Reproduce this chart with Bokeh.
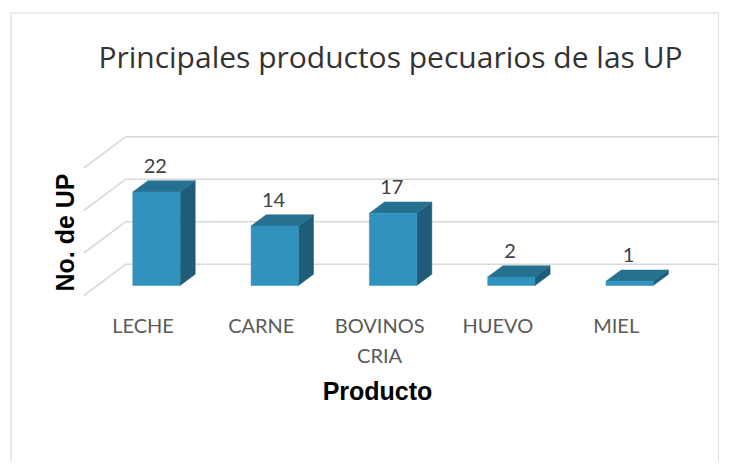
import math
from bokeh.plotting import figure
from bokeh.models import Range1d, Label, ColumnDataSource
from bokeh.core.properties import value
from bokeh.embed import file_html
from bokeh.resources import INLINE

# ---- data ----
categories = ["LECHE", "CARNE", "BOVINOS\nCRIA", "HUEVO", "MIEL"]
counts = [22, 14, 17, 2, 1]
grid_values = [0, 10, 20, 30]
title_text = "Principales productos pecuarios de las UP"
x_title = "Producto"
y_title = "No. de UP"

# ---- geometry / style ----
W, H = 719, 461
PX_X = 118.3            # px per category
PX_Y = 4.25             # px per unit of value
X0_IMG, Y0_IMG = 142.5, 295.0   # px of category 0 / value 0 on front plane
ORG = 0

def px_to_x(X):
    return (X - X0_IMG) / PX_X

def px_to_y(Y):
    return (Y0_IMG - Y) / PX_Y

x_start = px_to_x(ORG)
x_end = x_start + W / PX_X
y_end = px_to_y(ORG)
y_start = y_end - H / PX_Y

DX = 42 / PX_X          # depth offset in x units
DY = 31.3 / PX_Y        # depth offset in value units
D0, D1 = 0.32, 0.68     # bar depth position
HW = 0.2                # bar half width

FRONT = "#3192BE"
TOP = "#26718F"
SIDE = "#1E5C79"
GRID = "#D9D9D9"

p = figure(width=W, height=H, output_backend="svg", toolbar_location=None,
           x_range=Range1d(x_start, x_end), y_range=Range1d(y_start, y_end),
           min_border=0)
p.axis.visible = False
p.grid.visible = False
p.outline_line_color = None
p.background_fill_color = "white"
p.border_fill_color = "white"

# chart border (left, top, right)
bl, bt, br = px_to_x(10.5), px_to_y(12.5), px_to_x(W - 0.8)
p.segment(x0=[bl, bl, br], y0=[y_start, bt, y_start], x1=[bl, br, br], y1=[bt, bt, bt],
          line_color=GRID, line_width=1.2)

# walls
xl = -0.5
xr = len(categories) - 0.5
p.segment(x0=[xl + DX] * len(grid_values), y0=[g + DY for g in grid_values],
          x1=[xr + DX] * len(grid_values), y1=[g + DY for g in grid_values],
          line_color=GRID, line_width=1.6)
p.segment(x0=[xl] * len(grid_values), y0=grid_values,
          x1=[xl + DX] * len(grid_values), y1=[g + DY for g in grid_values],
          line_color=GRID, line_width=1.6)

# bars
fx, fy, tx, ty, sx, sy = [], [], [], [], [], []
for i, v in enumerate(counts):
    a = i - HW + D0 * DX
    b = i + HW + D0 * DX
    a1 = i - HW + D1 * DX
    b1 = i + HW + D1 * DX
    y0f = D0 * DY
    y1f = v + D0 * DY
    y0b = D1 * DY
    y1b = v + D1 * DY
    fx.append([a, b, b, a]); fy.append([y0f, y0f, y1f, y1f])
    tx.append([a, b, b1, a1]); ty.append([y1f, y1f, y1b, y1b])
    sx.append([b, b1, b1, b]); sy.append([y0f, y0b, y1b, y1f])
p.patches(sx, sy, fill_color=SIDE, line_color=SIDE, line_width=0.5)
p.patches(tx, ty, fill_color=TOP, line_color=TOP, line_width=0.5)
p.patches(fx, fy, fill_color=FRONT, line_color=FRONT, line_width=0.5)

# data labels
lab_src = ColumnDataSource(dict(
    x=[i + D0 * DX - 0.01 for i in range(len(counts))],
    y=[v + D0 * DY + 6.2 for v in counts],
    t=[str(v) for v in counts]))
p.text(x="x", y="y", text="t", source=lab_src, text_align="center",
       text_baseline="middle", text_font=value("Lato"), text_font_size="20px",
       text_color="#404040")

# category labels
cat_src = ColumnDataSource(dict(x=list(range(len(categories))),
                                y=[px_to_y(312)] * len(categories),
                                t=categories))
p.text(x="x", y="y", text="t", source=cat_src, text_align="center",
       text_baseline="top", text_font=value("Lato"), text_font_size="20px",
       text_color="#595959", text_line_height=1.28)

# titles
p.add_layout(Label(x=px_to_x(390), y=px_to_y(56), text=title_text,
                   text_align="center", text_baseline="middle",
                   text_font="Open Sans", text_font_size="30px",
                   text_color="#333333"))
p.add_layout(Label(x=px_to_x(377), y=px_to_y(390), text=x_title,
                   text_align="center", text_baseline="middle",
                   text_font="Liberation Sans", text_font_style="bold",
                   text_font_size="25px", text_color="black"))
p.add_layout(Label(x=px_to_x(64), y=px_to_y(232), text=y_title, angle=math.pi / 2,
                   text_align="center", text_baseline="middle",
                   text_font="Liberation Sans", text_font_style="bold",
                   text_font_size="25px", text_color="black"))

open("out.html", "w").write(file_html(p, INLINE))
